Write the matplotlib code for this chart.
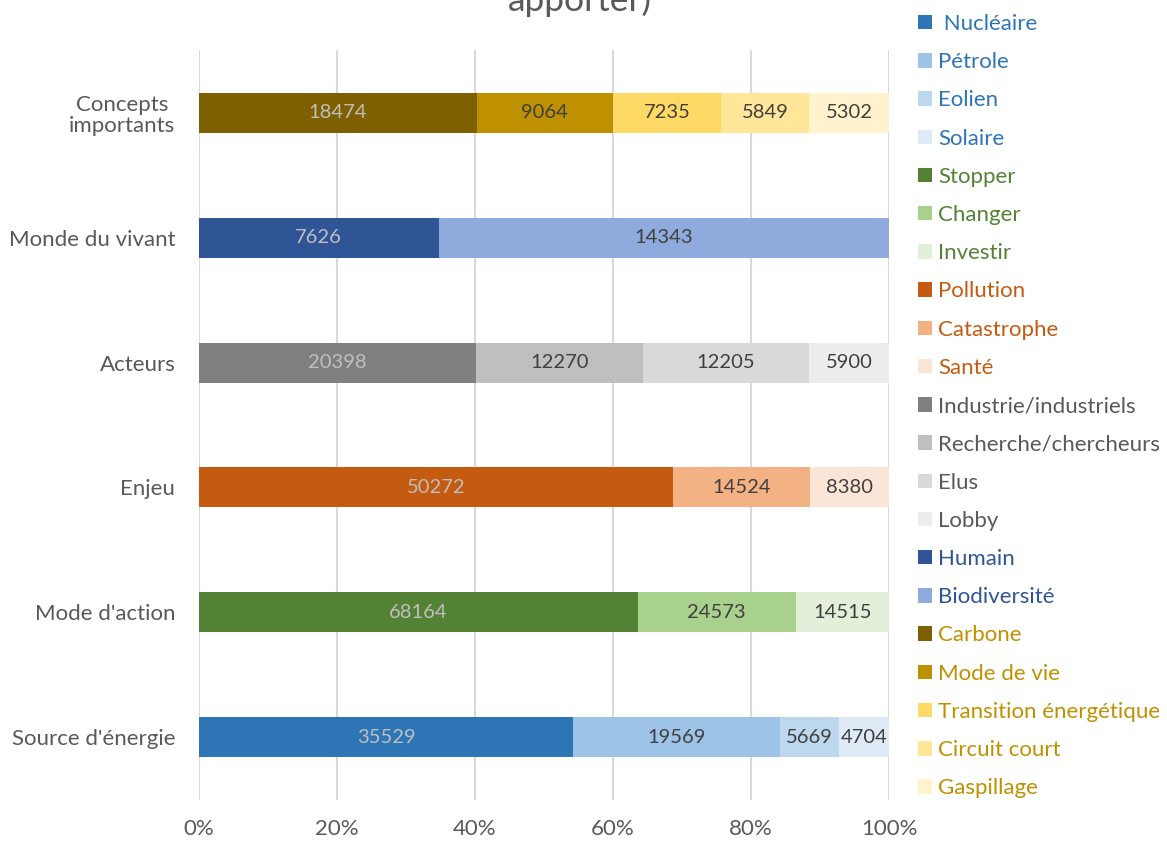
import matplotlib.pyplot as plt
from matplotlib.patches import Patch

plt.rcParams['font.family'] = ['Lato', 'DejaVu Sans']

# categories, bottom to top
categories = ["Source d'énergie", "Mode d'action", "Enjeu", "Acteurs",
              "Monde du vivant", "Concepts\nimportants"]

# each series only has a count in one category
series_names = [" Nucléaire", "Pétrole", "Eolien", "Solaire",
                "Stopper", "Changer", "Investir",
                "Pollution", "Catastrophe", "Santé",
                "Industrie/industriels", "Recherche/chercheurs", "Elus", "Lobby",
                "Humain", "Biodiversité",
                "Carbone", "Mode de vie", "Transition énergétique",
                "Circuit court", "Gaspillage"]
series_category = [0, 0, 0, 0,
                   1, 1, 1,
                   2, 2, 2,
                   3, 3, 3, 3,
                   4, 4,
                   5, 5, 5, 5, 5]
series_values = [35529, 19569, 5669, 4704,
                 68164, 24573, 14515,
                 50272, 14524, 8380,
                 20398, 12270, 12205, 5900,
                 7626, 14343,
                 18474, 9064, 7235, 5849, 5302]
series_colors = ["#2E75B6", "#9DC3E6", "#BDD7EE", "#DEEBF7",
                 "#548235", "#A9D18E", "#E2F0D9",
                 "#C55A11", "#F4B183", "#FBE5D6",
                 "#7F7F7F", "#BFBFBF", "#D9D9D9", "#EDEDED",
                 "#2F5597", "#8FAADC",
                 "#7F6000", "#BF9000", "#FFD966", "#FFE699", "#FFF2CC"]
# label text colour per group in the legend
group_text_colors = ["#2E75B6", "#548235", "#C55A11", "#595959", "#2F5597", "#BF9000"]
dark_series = {" Nucléaire", "Stopper", "Pollution", "Industrie/industriels",
               "Humain", "Carbone"}

totals = [0] * len(categories)
for c, v in zip(series_category, series_values):
    totals[c] += v

fig = plt.figure(figsize=(11.67, 8.42), dpi=100)
ax = fig.add_axes([0.1705, 0.0499, 0.5913, 0.8907])

left = [0.0] * len(categories)
handles = []
for name, c, v, col in zip(series_names, series_category, series_values, series_colors):
    pct = v / totals[c] * 100
    ax.barh(c, pct, left=left[c], height=0.32, color=col, zorder=3)
    txt_col = "#BFBFBF" if name in dark_series else "#404040"
    ax.text(left[c] + pct / 2, c, str(v), ha='center', va='center',
            fontsize=14.5, color=txt_col, zorder=4)
    left[c] += pct
    handles.append(Patch(facecolor=col, edgecolor='none', label=name))

ax.set_xlim(0, 100)
ax.set_ylim(-0.5, 5.5)
ax.set_xticks(range(0, 101, 20))
ax.set_xticklabels([f"{t}%" for t in range(0, 101, 20)])
ax.set_yticks(range(len(categories)))
ax.set_yticklabels(categories, multialignment='center', linespacing=1.1)
ax.tick_params(axis='both', length=0, labelsize=16, colors='#595959')
ax.tick_params(axis='x', pad=14)
ax.tick_params(axis='y', pad=17)
ax.grid(axis='x', color='#D9D9D9', linewidth=1.5, zorder=0)
for s in ax.spines.values():
    s.set_visible(False)

leg_colors = [group_text_colors[c] for c in series_category]
leg = fig.legend(handles=handles, loc='upper left', bbox_to_anchor=(0.779, 0.994),
                 frameon=False, fontsize=16, labelcolor=leg_colors,
                 handlelength=0.62, handleheight=0.62, handletextpad=0.3,
                 labelspacing=0.82, borderaxespad=0.0)

fig.text(0.497, 0.987, "apporter)", ha='center', va='baseline',
         fontsize=25.5, color='#595959')

fig.savefig("out.png", dpi=100)
